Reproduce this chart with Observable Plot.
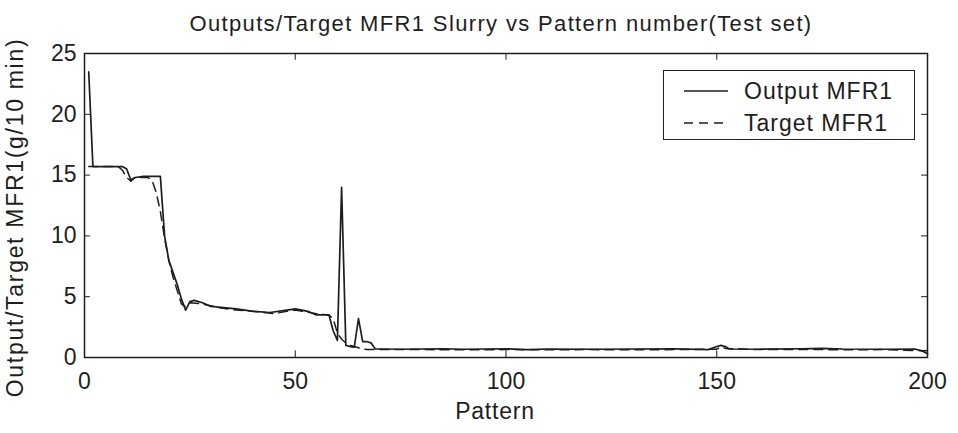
<!DOCTYPE html>
<html>
<head>
<meta charset="utf-8">
<script src="https://cdn.jsdelivr.net/npm/d3@7"></script>
<script src="https://cdn.jsdelivr.net/npm/@observablehq/plot@0.6"></script>
<style>
  html, body { margin: 0; padding: 0; background: #fff; }
  #wrap { position: relative; width: 958px; height: 433px; font-family: "Liberation Sans", Arial, sans-serif; }
  #legend { position: absolute; left: 663px; top: 70px; width: 252px; height: 70px; border: 1.5px solid #222; background: #fff; box-sizing: border-box; }
  #legend svg { position: absolute; left: 0; top: 0; }
</style>
</head>
<body>
<div id="wrap"></div>
<script>
const titleText = "Outputs/Target MFR1 Slurry vs Pattern number(Test set)";
const xLabel = "Pattern";
const yLabel = "Output/Target MFR1(g/10 min)";
const seriesNames = ["Output MFR1", "Target MFR1"];
const xTicks = [0, 50, 100, 150, 200];
const yTicks = [0, 5, 10, 15, 20, 25];

const outputPattern = [1, 2, 5, 8, 9, 10, 11, 12, 14, 16, 18, 19, 20, 21, 22, 23, 24, 25, 26, 28, 30, 33, 36, 40, 44, 48, 50, 53, 55, 58, 59, 60, 61, 62, 63, 64, 65, 66, 67, 68, 69, 70, 75, 80, 85, 90, 95, 100, 105, 110, 120, 130, 140, 148, 150, 151, 152, 153, 160, 170, 175, 180, 190, 197, 199, 200];
const outputValue   = [23.5, 15.7, 15.7, 15.7, 15.7, 15.5, 14.6, 14.8, 14.9, 14.9, 14.9, 10.0, 8.0, 7.0, 6.0, 4.8, 3.9, 4.6, 4.7, 4.5, 4.2, 4.1, 4.0, 3.8, 3.7, 3.9, 4.0, 3.8, 3.5, 3.5, 2.2, 1.4, 14.0, 1.0, 0.9, 0.85, 3.2, 1.3, 1.3, 1.2, 0.7, 0.7, 0.68, 0.7, 0.72, 0.68, 0.7, 0.72, 0.65, 0.7, 0.68, 0.7, 0.72, 0.65, 0.9, 1.0, 0.9, 0.7, 0.68, 0.72, 0.75, 0.7, 0.68, 0.7, 0.5, 0.3];

const targetPattern = [1, 8, 9, 10, 11, 12, 15, 16, 17, 18, 19, 20, 21, 22, 23, 24, 25, 28, 32, 36, 40, 45, 48, 50, 55, 58, 59, 60, 61, 62, 63, 64, 65, 66, 67, 70, 80, 90, 100, 110, 120, 130, 140, 150, 151, 152, 160, 170, 180, 190, 200];
const targetValue   = [15.7, 15.7, 15.4, 14.8, 14.5, 14.8, 14.8, 14.6, 13.6, 12.0, 9.8, 8.0, 6.6, 5.5, 4.4, 4.2, 4.5, 4.4, 4.1, 3.9, 3.8, 3.6, 3.8, 3.9, 3.6, 3.5, 3.2, 2.0, 1.5, 1.2, 1.0, 0.9, 0.8, 0.7, 0.65, 0.65, 0.65, 0.63, 0.65, 0.64, 0.65, 0.63, 0.65, 0.68, 0.9, 0.75, 0.65, 0.66, 0.64, 0.65, 0.55];

const outputRows = outputPattern.map((p, i) => ({pattern: p, value: outputValue[i]}));
const targetRows = targetPattern.map((p, i) => ({pattern: p, value: targetValue[i]}));

const ink = "#1e1e1e";
const innerX = xTicks.slice(1, -1);
const innerY = yTicks.slice(1, -1);
const chart = Plot.plot({
  width: 958,
  height: 433,
  marginLeft: 84,
  marginRight: 31,
  marginTop: 53,
  marginBottom: 76,
  style: {fontFamily: "'Liberation Sans', Arial, sans-serif", fontSize: "22px", color: ink, background: "#fff"},
  x: {domain: [0, 200]},
  y: {domain: [0, 25]},
  marks: [
    Plot.frame({stroke: ink, strokeWidth: 1.5}),
    Plot.axisX({ticks: xTicks, tickSize: 0, tickPadding: 15, tickFormat: d => String(d), label: null, fontSize: 23}),
    Plot.ruleX(innerX, {x: d => d, y1: 0, y2: 0.55, stroke: ink}),
    Plot.ruleX(innerX, {x: d => d, y1: 25, y2: 24.45, stroke: ink}),
    Plot.axisY({ticks: yTicks, tickSize: 0, tickPadding: 8, tickFormat: d => String(d), label: null, fontSize: 23}),
    Plot.ruleY(innerY, {y: d => d, x1: 0, x2: 1.4, stroke: ink}),
    Plot.ruleY(innerY, {y: d => d, x1: 200, x2: 198.6, stroke: ink}),
    Plot.lineY(targetRows, {x: "pattern", y: "value", stroke: ink, strokeWidth: 1.5, strokeDasharray: "9,6"}),
    Plot.lineY(outputRows, {x: "pattern", y: "value", stroke: ink, strokeWidth: 1.7}),
    Plot.text([titleText], {frameAnchor: "top", dy: -38, dx: -5, text: d => d, fontSize: 22, fill: ink}),
    Plot.text([xLabel], {frameAnchor: "bottom", dy: 61, dx: -11, text: d => d, fontSize: 23, fill: ink}),
    Plot.text([yLabel], {frameAnchor: "left", textAnchor: "middle", dx: -69, dy: 12, rotate: -90, text: d => d, fontSize: 23, fill: ink})
  ]
});
// widen the labels to match the reference's horizontally stretched type
const spacing = new Map([[titleText, 1.35], [yLabel, 1.7], [xLabel, 0.8]]);
d3.select(chart).selectAll("text").each(function () {
  const s = spacing.get(this.textContent);
  if (s != null) this.setAttribute("letter-spacing", s);
});
const wrap = document.getElementById("wrap");
wrap.appendChild(chart);

// legend
const legend = document.createElement("div");
legend.id = "legend";
wrap.appendChild(legend);
const ls = d3.select(legend).append("svg").attr("width", 252).attr("height", 70);
const dashes = [null, "9,6"];
seriesNames.forEach((name, i) => {
  const yy = 20 + i * 32;
  ls.append("line").attr("x1", 20).attr("x2", 64).attr("y1", yy).attr("y2", yy)
    .attr("stroke", ink).attr("stroke-width", 1.5).attr("stroke-dasharray", dashes[i]);
  ls.append("text").attr("x", 80).attr("y", yy).attr("dy", "0.35em")
    .attr("font-size", 23).attr("letter-spacing", 1).attr("fill", ink)
    .attr("font-family", "'Liberation Sans', Arial, sans-serif").text(name);
});
</script>
</body>
</html>
